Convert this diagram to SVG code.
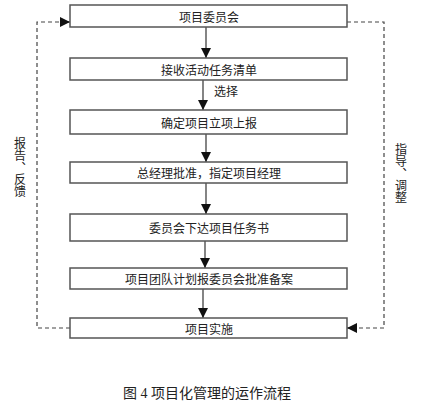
<svg xmlns="http://www.w3.org/2000/svg" width="423" height="411" viewBox="0 0 423 411">
<defs>
<style>
.box{fill:#fff;stroke:#555;stroke-width:1.5}
.t{font-family:"Noto Sans CJK SC","Liberation Sans",sans-serif;font-size:12px;fill:#222;text-anchor:middle;dominant-baseline:central}
.flow{stroke:#333;stroke-width:1.2;fill:none}
.dash{stroke:#444;stroke-width:1.2;fill:none;stroke-dasharray:4,3}
.vt{font-family:"Noto Sans CJK SC",sans-serif;font-size:12px;fill:#222;writing-mode:vertical-rl}
.cap{font-family:"Liberation Serif","Noto Sans CJK SC",serif;font-size:14px;fill:#222;text-anchor:middle}
</style>
<marker id="ah" viewBox="0 0 10 10" refX="10" refY="5" markerWidth="10" markerHeight="10" markerUnits="userSpaceOnUse" orient="auto">
<path d="M0,0 L10,5 L0,10 Z" fill="#111"/>
</marker>
<marker id="ahb" viewBox="0 0 10 10" refX="10" refY="5" markerWidth="12" markerHeight="10" markerUnits="userSpaceOnUse" orient="auto">
<path d="M0,0 L10,5 L0,10 Z" fill="#111"/>
</marker>
</defs>
<g id="connectors">
<line class="flow" x1="206" y1="27" x2="206" y2="58" marker-end="url(#ahb)"/>
<line class="flow" x1="203" y1="80" x2="203" y2="110" marker-end="url(#ahb)"/>
<line class="flow" x1="206" y1="134" x2="206" y2="162" marker-end="url(#ahb)"/>
<line class="flow" x1="206" y1="183" x2="206" y2="214" marker-end="url(#ahb)"/>
<line class="flow" x1="205" y1="241" x2="205" y2="268" marker-end="url(#ahb)"/>
<line class="flow" x1="203" y1="289" x2="203" y2="318" marker-end="url(#ahb)"/>
<polyline class="dash" points="70,328 37,328 37,22 60,22"/>
<line class="flow" x1="60" y1="22" x2="70" y2="22" marker-end="url(#ah)"/>
<polyline class="dash" points="347,22 384,22 384,328 357,328"/>
<line class="flow" x1="357" y1="328" x2="347" y2="328" marker-end="url(#ah)"/>
<text class="t" x="226" y="90">选择</text>
<text class="vt" x="20" y="137">报告、反馈</text>
<text class="vt" x="401" y="143">指导、调整</text>
</g>
<g id="n1"><rect class="box" x="70" y="5" width="277" height="22"/><text class="t" x="209" y="16">项目委员会</text></g>
<g id="n2"><rect class="box" x="70" y="58" width="277" height="22"/><text class="t" x="209" y="69">接收活动任务清单</text></g>
<g id="n3"><rect class="box" x="70" y="110" width="277" height="24"/><text class="t" x="209" y="122">确定项目立项上报</text></g>
<g id="n4"><rect class="box" x="70" y="162" width="277" height="21"/><text class="t" x="209" y="172.5">总经理批准，指定项目经理</text></g>
<g id="n5"><rect class="box" x="70" y="214" width="277" height="27"/><text class="t" x="209" y="227.5">委员会下达项目任务书</text></g>
<g id="n6"><rect class="box" x="70" y="268" width="277" height="21"/><text class="t" x="209" y="278.5">项目团队计划报委员会批准备案</text></g>
<g id="n7"><rect class="box" x="70" y="318" width="277" height="20"/><text class="t" x="209" y="328">项目实施</text></g>
<text class="cap" x="207" y="398">图 4 项目化管理的运作流程</text>
</svg>
